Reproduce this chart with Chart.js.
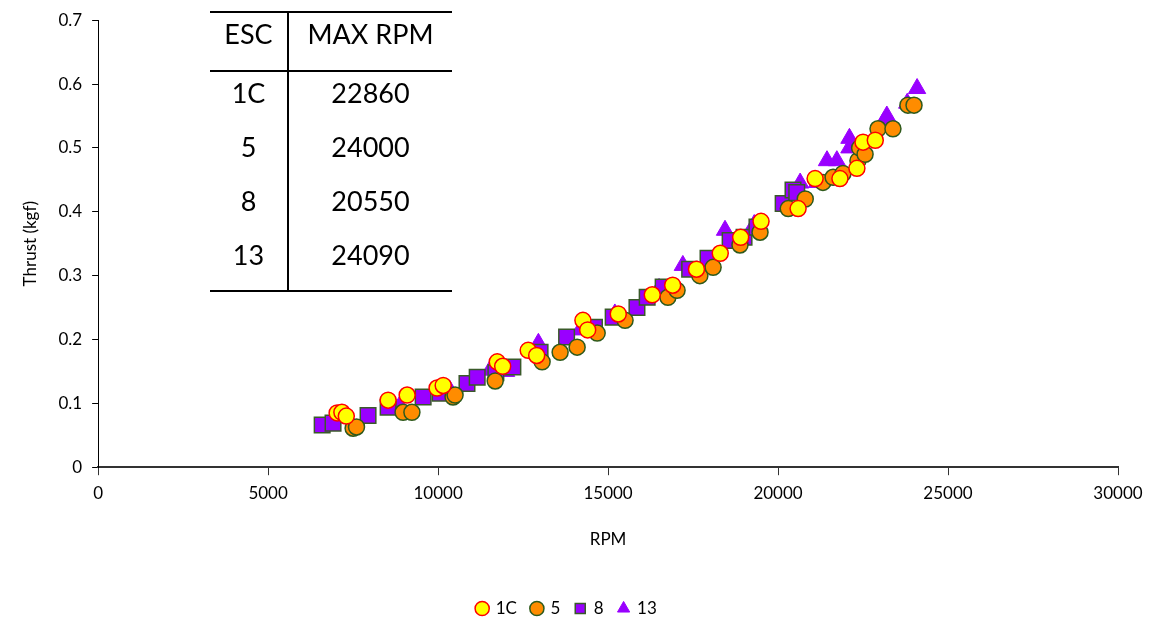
<!DOCTYPE html>
<html>
<head>
<meta charset="utf-8">
<script src="https://cdn.jsdelivr.net/npm/chart.js@4/dist/chart.umd.min.js"></script>
<style>
  body { margin: 0; background: #fff; }
  #wrap { position: relative; width: 1156px; height: 620px; overflow: hidden; }
  #inset {
    position: absolute; left: 210px; top: 11px; width: 242px;
    border-collapse: collapse; font-family: Lato, "Open Sans", sans-serif;
    font-size: 27px; color: #000;
  }
  #inset td, #inset th { font-weight: normal; text-align: center; vertical-align: top;
    line-height: 30px; padding: 6px 0 18px 0; }
  #inset th { padding-bottom: 21px; border-top: 2px solid #000; border-bottom: 2px solid #000; }
  #inset .c1 { width: 77px; border-right: 2px solid #000; }
  #inset tr.last td { padding-bottom: 20px; border-bottom: 2px solid #000; }
</style>
</head>
<body>
<div id="wrap">
  <canvas id="chart" width="1156" height="620"></canvas>
  <table id="inset"></table>
</div>
<script>
// inset table
const escNames = ["1C", "5", "8", "13"];
const maxRpm = [22860, 24000, 20550, 24090];

// series data, [rpm, thrust kgf]
const esc1C = [
  [7030, 0.085], [7170, 0.086], [7300, 0.080], [8530, 0.105], [9090, 0.113],
  [9970, 0.124], [10150, 0.128], [11740, 0.165], [11900, 0.158], [12650, 0.183],
  [12900, 0.175], [14260, 0.230], [14400, 0.215], [15300, 0.240], [16300, 0.270],
  [16900, 0.285], [17600, 0.310], [18300, 0.335], [18900, 0.360], [19500, 0.385],
  [20590, 0.405], [21090, 0.452], [21820, 0.452], [22320, 0.468], [22500, 0.509],
  [22860, 0.512]
];
const esc5 = [
  [7500, 0.061], [7600, 0.063], [8970, 0.086], [9230, 0.086], [10440, 0.110],
  [10500, 0.113], [11680, 0.135], [13060, 0.165], [13590, 0.180], [14090, 0.188],
  [14680, 0.210], [15500, 0.230], [16760, 0.266], [17030, 0.277], [17700, 0.300],
  [18090, 0.313], [18880, 0.348], [19470, 0.368], [20300, 0.405], [20800, 0.420],
  [21320, 0.446], [21620, 0.454], [21910, 0.460], [22350, 0.480], [22400, 0.500],
  [22560, 0.490], [22940, 0.530], [23380, 0.530], [23820, 0.567], [24000, 0.567]
];
const esc8 = [
  [6590, 0.066], [6910, 0.069], [7940, 0.081], [8530, 0.094], [9560, 0.110],
  [10060, 0.116], [10850, 0.131], [11150, 0.141], [11700, 0.148], [12200, 0.157],
  [13000, 0.180], [13780, 0.204], [14600, 0.219], [15150, 0.235], [15850, 0.250],
  [16150, 0.266], [16620, 0.282], [17400, 0.310], [17940, 0.327], [18590, 0.355],
  [19000, 0.360], [19380, 0.376], [20150, 0.413], [20440, 0.434], [20550, 0.430]
];
const esc13 = [
  [7350, 0.077], [8880, 0.097], [10350, 0.120], [11530, 0.152], [12000, 0.150],
  [12950, 0.194], [14180, 0.215], [15200, 0.240], [16500, 0.280], [17200, 0.316],
  [18440, 0.371], [19300, 0.380], [20650, 0.445], [21150, 0.446], [21440, 0.480],
  [21730, 0.480], [22100, 0.500], [22100, 0.515], [23100, 0.540], [23200, 0.550],
  [23800, 0.570], [24090, 0.593]
];

let rows = '<tr><th class="c1">ESC</th><th>MAX RPM</th></tr>';
for (let i = 0; i < escNames.length; i++) {
  rows += '<tr' + (i == escNames.length - 1 ? ' class="last"' : '') + '><td class="c1">' +
    escNames[i] + '</td><td>' + maxRpm[i] + '</td></tr>';
}
document.getElementById('inset').innerHTML = rows;

const toXY = arr => arr.map(p => ({ x: p[0], y: p[1] }));
const font = 'Lato, "Open Sans", sans-serif';

new Chart(document.getElementById('chart'), {
  type: 'scatter',
  data: {
    datasets: [
      { label: '1C', data: toXY(esc1C), pointStyle: 'circle', pointRadius: 8,
        backgroundColor: '#ffff00', borderColor: '#ff0000', borderWidth: 1.5 },
      { label: '5', data: toXY(esc5), pointStyle: 'circle', pointRadius: 8,
        backgroundColor: '#ff8c00', borderColor: '#2e5a1c', borderWidth: 1.5 },
      { label: '8', data: toXY(esc8), pointStyle: 'rect', pointRadius: 11,
        backgroundColor: '#9900ff', borderColor: '#3a5a2a', borderWidth: 1.5 },
      { label: '13', data: toXY(esc13), pointStyle: 'triangle', pointRadius: 10,
        backgroundColor: '#9900ff', borderColor: '#9900ff', borderWidth: 1 }
    ]
  },
  options: {
    responsive: false,
    animation: false,
    layout: { padding: { left: 16, right: 38, top: 12, bottom: -7 } },
    plugins: {
      tooltip: { enabled: false },
      legend: {
        position: 'bottom',
        labels: { usePointStyle: true, boxWidth: 10, boxHeight: 10, padding: 15,
          color: '#000', font: { family: font, size: 17 } }
      }
    },
    scales: {
      x: {
        min: 0, max: 30000,
        border: { color: '#333', width: 2 },
        grid: { drawOnChartArea: false, drawTicks: true, tickLength: 8, color: '#333' },
        ticks: { stepSize: 5000, color: '#000', font: { family: font, size: 17 }, padding: 8,
          maxRotation: 0, callback: v => v },
        title: { display: true, text: 'RPM', color: '#000', font: { family: font, size: 17 },
          padding: { top: 18, bottom: 35 } }
      },
      y: {
        min: 0, max: 0.7,
        border: { color: '#000', width: 1 },
        grid: { drawOnChartArea: false, drawTicks: true, tickLength: 6, color: '#000' },
        ticks: { stepSize: 0.1, color: '#000', font: { family: font, size: 17 }, padding: 10,
          callback: v => +v.toFixed(1) },
        title: { display: true, text: 'Thrust (kgf)', color: '#000', font: { family: font, size: 17 },
          padding: { bottom: 8 } }
      }
    }
  }
});
</script>
</body>
</html>
